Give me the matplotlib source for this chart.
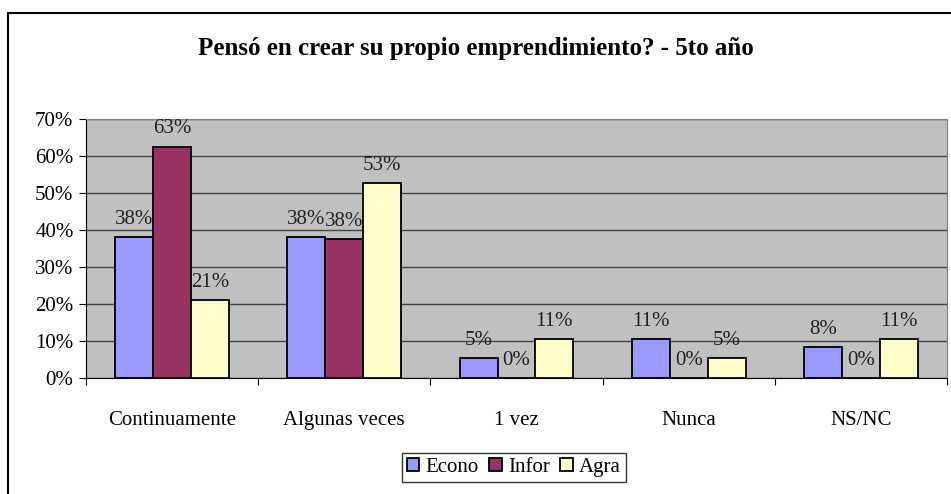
import numpy as np
import matplotlib
matplotlib.use("Agg")
import matplotlib.pyplot as plt
from matplotlib.patches import Rectangle

categorias = ["Continuamente", "Algunas veces", "1 vez", "Nunca", "NS/NC"]
econo = [38.1, 38.1, 5.3, 10.5, 8.4]
infor = [62.5, 37.5, 0.0, 0.0, 0.0]
agra = [21.1, 52.6, 10.5, 5.3, 10.5]
etq_econo = ["38%", "38%", "5%", "11%", "8%"]
etq_infor = ["63%", "38%", "0%", "0%", "0%"]
etq_agra = ["21%", "53%", "11%", "5%", "11%"]
series = ["Econo", "Infor", "Agra"]
colores = ["#9999FF", "#993366", "#FFFFCC"]
titulo = "Pensó en crear su propio emprendimiento? - 5to año"

FS = 15
plt.rcParams["font.family"] = ["Liberation Serif", "DejaVu Serif"]
fig = plt.figure(figsize=(9.51, 4.94), dpi=100)
fig.patches.append(Rectangle((8/951, -0.1), 1.2, 1.1 - 13/494, transform=fig.transFigure,
                             fill=False, ec="black", lw=1.5))
ax = fig.add_axes([86/951, 1 - 378/494, 861/951, 259/494])
ax.set_facecolor("#C0C0C0")

x = np.arange(len(categorias))
w = 0.22
for i, (vals, etq) in enumerate(zip([econo, infor, agra], [etq_econo, etq_infor, etq_agra])):
    xs = x + (i - 1) * w
    ax.bar(xs, vals, w, color=colores[i], edgecolor="black", lw=1.3, label=series[i], zorder=3)
    for xi, v, t in zip(xs, vals, etq):
        ax.annotate(t, (xi, v), xytext=(0, 6), textcoords="offset points",
                    ha="center", va="bottom", fontsize=FS, color="#222222", zorder=4)

ax.set_xlim(-0.5, len(categorias) - 0.5)
ax.set_ylim(0, 70)
ax.set_yticks(np.arange(0, 71, 10))
ax.set_yticklabels([f"{v}%" for v in range(0, 71, 10)], fontsize=FS)
ax.yaxis.grid(True, color="#444444", lw=1, zorder=0)
ax.set_xticks(np.arange(-0.5, len(categorias), 1))
ax.set_xticklabels([])
ax.set_xticks(x, minor=True)
ax.set_xticklabels(categorias, minor=True, fontsize=FS)
ax.tick_params(axis="x", which="minor", length=0, pad=24)
ax.tick_params(axis="x", which="major", length=5, direction="out", color="black")
ax.tick_params(axis="y", length=5, direction="out", color="black", pad=4)
for s in ["top", "right"]:
    ax.spines[s].set_color("#808080")
ax.spines["left"].set_color("black")
ax.spines["bottom"].set_color("black")

fig.text(0.5, 1 - 48/494, titulo, ha="center", va="center", fontsize=18, fontweight="bold")

leg = fig.legend(loc="upper center", bbox_to_anchor=(514/951, 1 - 453/494), ncol=3,
                 frameon=True, fancybox=False, edgecolor="black", fontsize=FS,
                 handlelength=0.6, handleheight=0.6, handletextpad=0.3, columnspacing=0.5,
                 borderpad=0.25, borderaxespad=0)
leg.get_frame().set_linewidth(1)

fig.savefig("out.png", dpi=100)
